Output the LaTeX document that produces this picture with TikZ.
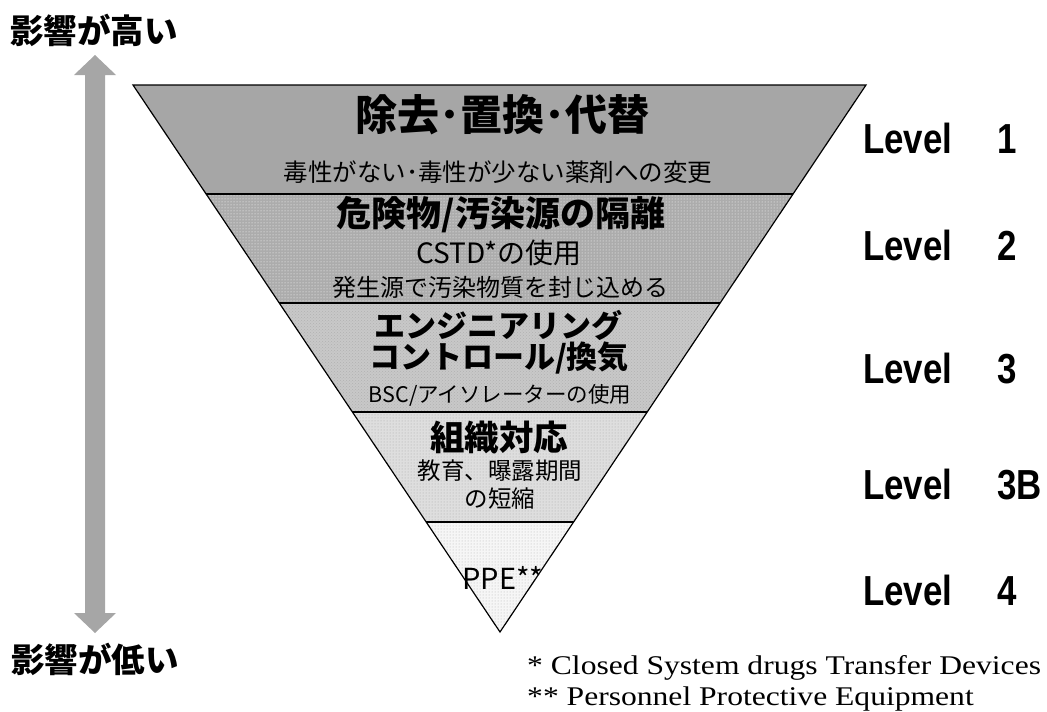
\documentclass[tikz,border=0pt]{standalone}
\usepackage{fontspec}
\setmainfont{Noto Sans CJK JP}
\newfontfamily\lvlfont{Liberation Sans}
\newfontfamily\notefont{Liberation Serif}
\usetikzlibrary{patterns,calc}
\definecolor{band1}{RGB}{166,166,166}
\definecolor{band2}{RGB}{172,172,172}
\definecolor{band3}{RGB}{200,200,200}
\definecolor{band4}{RGB}{222,222,222}
\definecolor{band5}{RGB}{246,246,246}
\definecolor{arrowgray}{RGB}{166,166,166}
\begin{document}
\begin{tikzpicture}[x=1pt,y=-1pt,
  outline/.style={draw=black,line width=1.2pt,line join=miter},
  head/.style={font=\bfseries\fontsize{#1}{#1}\selectfont,inner sep=0pt,anchor=center},
  sub/.style={font=\fontsize{#1}{#1}\selectfont,inner sep=0pt,anchor=center},
  lvl/.style={font=\lvlfont\bfseries\fontsize{42}{42}\selectfont,inner sep=0pt,anchor=base west},
  note/.style={font=\notefont\fontsize{27}{27}\selectfont,inner sep=0pt,anchor=base west},
  side/.style={font=\bfseries\fontsize{33.5}{33.5}\selectfont,inner sep=0pt,anchor=center}]
\useasboundingbox (0,0) rectangle (1047,712);
% triangle corners
\coordinate (A) at (133,85);
\coordinate (B) at (866,85);
\coordinate (O) at (500,632);
\coordinate (l1) at ($(A)!0.1993!(O)$); \coordinate (r1) at ($(B)!0.1993!(O)$);
\coordinate (l2) at ($(A)!0.3985!(O)$); \coordinate (r2) at ($(B)!0.3985!(O)$);
\coordinate (l3) at ($(A)!0.5978!(O)$); \coordinate (r3) at ($(B)!0.5978!(O)$);
\coordinate (l4) at ($(A)!0.7989!(O)$); \coordinate (r4) at ($(B)!0.7989!(O)$);
% bands
\fill[band1] (A) -- (B) -- (r1) -- (l1) -- cycle;
\fill[band2] (l1) -- (r1) -- (r2) -- (l2) -- cycle;
\fill[pattern=dots,pattern color=white] (l1) -- (r1) -- (r2) -- (l2) -- cycle;
\fill[band3] (l2) -- (r2) -- (r3) -- (l3) -- cycle;
\fill[pattern=crosshatch dots,pattern color=gray!60] (l2) -- (r2) -- (r3) -- (l3) -- cycle;
\fill[band4] (l3) -- (r3) -- (r4) -- (l4) -- cycle;
\fill[pattern=dots,pattern color=gray!70] (l3) -- (r3) -- (r4) -- (l4) -- cycle;
\fill[band5] (l4) -- (r4) -- (O) -- cycle;
\fill[pattern=dots,pattern color=gray!60] (l4) -- (r4) -- (O) -- cycle;
\draw[outline] (A) -- (B) -- (O) -- cycle;
\draw[outline] (l1) -- (r1);
\draw[outline] (l2) -- (r2);
\draw[outline] (l3) -- (r3);
\draw[outline] (l4) -- (r4);
% texts inside
\node[head=42] (t1) at (502,115) {除去･置換･代替};
\node[sub=24.5] (s1) at (498,172) {毒性がない･毒性が少ない薬剤への変更};
\node[head=35] (t2) at (501,215) {危険物/汚染源の隔離};
\node[sub=28] (s2a) at (499,253) {CSTD*の使用};
\node[sub=24] (s2b) at (500,287) {発生源で汚染物質を封じ込める};
\node[head=31] (t3a) at (498,325) {エンジニアリング};
\node[head=31] (t3b) at (499,358) {コントロール/換気};
\node[sub=21.5] (s3) at (500,395) {BSC/アイソレーターの使用};
\node[head=34.5] (t4) at (499,438) {組織対応};
\node[sub=23.5] (s4a) at (500,471) {教育、曝露期間};
\node[sub=23.5] (s4b) at (500,499) {の短縮};
\node[sub=29] (p5) at (503,578) {PPE**};
% level labels
\node[lvl] (v1) at (863,153) {\scalebox{0.83}[1]{Level}};
\node[lvl] (n1) at (997,153) {\scalebox{0.83}[1]{1}};
\node[lvl] (v2) at (863,260) {\scalebox{0.83}[1]{Level}};
\node[lvl] (n2) at (997,260) {\scalebox{0.83}[1]{2}};
\node[lvl] (v3) at (863,383) {\scalebox{0.83}[1]{Level}};
\node[lvl] (n3) at (997,383) {\scalebox{0.83}[1]{3}};
\node[lvl] (v4) at (863,499) {\scalebox{0.83}[1]{Level}};
\node[lvl] (n4) at (997,499) {\scalebox{0.83}[1]{3B}};
\node[lvl] (v5) at (863,605) {\scalebox{0.83}[1]{Level}};
\node[lvl] (n5) at (997,605) {\scalebox{0.83}[1]{4}};
% side arrow
\fill[arrowgray] (95,55) -- (116,75) -- (105,75) -- (105,613) -- (116,613)
  -- (95,633) -- (74,613) -- (85,613) -- (85,75) -- (74,75) -- cycle;
\node[side] (hi) at (94,30) {影響が高い};
\node[side] (lo) at (95,659) {影響が低い};
% footnotes
\node[note] (f1) at (527,674) {\scalebox{1.17}[1]{* Closed System drugs Transfer Devices}};
\node[note] (f2) at (527,705) {\scalebox{1.17}[1]{** Personnel Protective Equipment}};
\end{tikzpicture}
\end{document}
